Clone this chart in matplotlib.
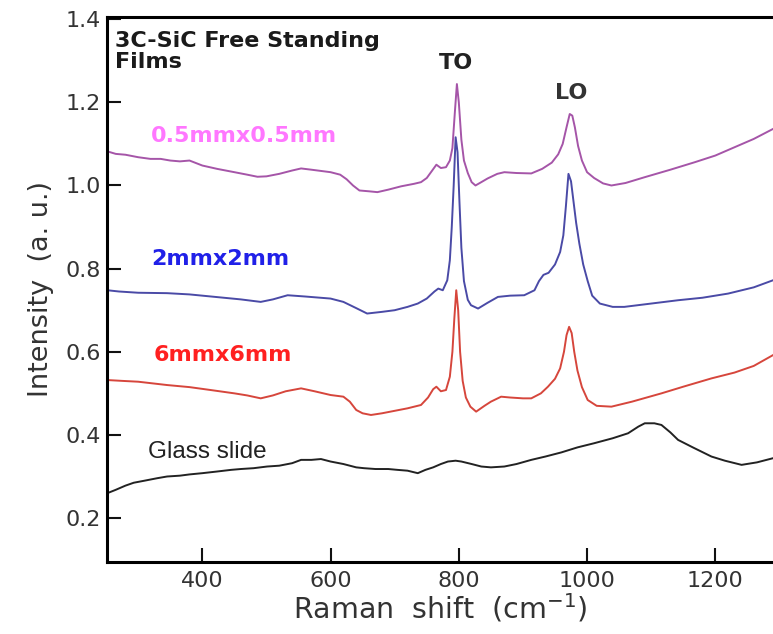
import matplotlib
matplotlib.use('Agg')
import matplotlib.pyplot as plt

# Raman spectra (x in cm^-1, y in a.u.)
purple_x = [252, 265, 280, 300, 319, 335, 350, 365, 380, 400, 423, 450, 470, 486, 500, 520, 540, 554,
            570, 600, 615, 625, 635, 645, 660, 673, 690, 710, 730, 741, 750, 758, 765, 772, 780, 786,
            790, 794, 797, 800, 804, 808, 814, 820, 826, 835, 845, 860, 871, 890, 913, 930, 945, 955,
            962, 968, 973, 977, 981, 986, 992, 1000, 1011, 1025, 1038, 1060, 1090, 1130, 1168, 1200,
            1230, 1260, 1290]
purple_y = [1.082, 1.076, 1.074, 1.068, 1.064, 1.064, 1.060, 1.058, 1.060, 1.048, 1.040, 1.032, 1.026,
            1.021, 1.022, 1.028, 1.036, 1.041, 1.038, 1.032, 1.026, 1.015, 1.000, 0.988, 0.986, 0.984,
            0.990, 0.998, 1.004, 1.008, 1.018, 1.035, 1.050, 1.042, 1.044, 1.060, 1.090, 1.180, 1.244,
            1.200, 1.110, 1.060, 1.030, 1.008, 1.000, 1.008, 1.017, 1.028, 1.032, 1.030, 1.029, 1.040,
            1.055, 1.075, 1.100, 1.140, 1.172, 1.168, 1.140, 1.095, 1.060, 1.032, 1.018, 1.005, 1.000,
            1.006, 1.020, 1.038, 1.056, 1.072, 1.092, 1.112, 1.136]

blue_x = [252, 270, 300, 345, 380, 420, 460, 491, 510, 533, 560, 600, 620, 640, 657, 680, 700, 720,
          736, 750, 762, 768, 775, 782, 786, 789, 792, 795, 798, 801, 804, 808, 814, 819, 830, 845,
          861, 880, 902, 918, 925, 932, 940, 950, 958, 963, 967, 971, 975, 979, 983, 988, 994, 1001,
          1008, 1020, 1040, 1058, 1100, 1142, 1180, 1220, 1260, 1290]
blue_y = [0.748, 0.745, 0.742, 0.741, 0.738, 0.732, 0.726, 0.720, 0.726, 0.736, 0.733, 0.728, 0.720,
          0.705, 0.692, 0.696, 0.700, 0.708, 0.716, 0.728, 0.745, 0.752, 0.748, 0.772, 0.820, 0.900,
          1.000, 1.116, 1.080, 0.960, 0.850, 0.770, 0.725, 0.712, 0.704, 0.718, 0.732, 0.735, 0.736,
          0.748, 0.770, 0.785, 0.790, 0.810, 0.840, 0.880, 0.950, 1.028, 1.010, 0.960, 0.910, 0.860,
          0.810, 0.770, 0.735, 0.716, 0.708, 0.708, 0.716, 0.724, 0.730, 0.740, 0.755, 0.772]

red_x = [252, 275, 300, 345, 380, 413, 450, 470, 491, 510, 530, 554, 575, 600, 620, 630, 640, 650,
         663, 680, 700, 720, 741, 752, 760, 765, 772, 780, 786, 790, 793, 796, 799, 802, 806, 811,
         818, 827, 840, 850, 866, 880, 900, 913, 928, 939, 950, 958, 964, 968, 972, 976, 980, 985,
         992, 1001, 1015, 1038, 1070, 1116, 1150, 1194, 1230, 1260, 1290]
red_y = [0.532, 0.530, 0.528, 0.520, 0.515, 0.508, 0.500, 0.495, 0.488, 0.495, 0.505, 0.512, 0.505,
         0.496, 0.492, 0.480, 0.460, 0.452, 0.448, 0.452, 0.458, 0.464, 0.472, 0.490, 0.510, 0.516,
         0.505, 0.508, 0.540, 0.600, 0.680, 0.748, 0.700, 0.600, 0.530, 0.490, 0.468, 0.456, 0.470,
         0.480, 0.492, 0.490, 0.488, 0.488, 0.500, 0.516, 0.535, 0.560, 0.600, 0.640, 0.660, 0.645,
         0.600, 0.555, 0.515, 0.484, 0.470, 0.468, 0.480, 0.500, 0.516, 0.536, 0.550, 0.566, 0.592]

glass_x = [252, 265, 280, 293, 310, 330, 345, 365, 380, 400, 423, 445, 460, 480, 501, 520, 540, 554,
           570, 585, 600, 620, 640, 652, 670, 690, 704, 720, 736, 748, 760, 772, 783, 795, 804, 820,
           835, 850, 871, 890, 913, 935, 960, 985, 1011, 1040, 1064, 1080, 1090, 1105, 1116, 1130,
           1142, 1165, 1194, 1215, 1241, 1265, 1290]
glass_y = [0.260, 0.268, 0.278, 0.285, 0.290, 0.296, 0.300, 0.302, 0.305, 0.308, 0.312, 0.316, 0.318,
           0.320, 0.324, 0.326, 0.332, 0.340, 0.340, 0.342, 0.336, 0.330, 0.322, 0.320, 0.318, 0.318,
           0.316, 0.314, 0.308, 0.316, 0.322, 0.330, 0.336, 0.338, 0.336, 0.330, 0.324, 0.322, 0.324,
           0.330, 0.340, 0.348, 0.358, 0.370, 0.380, 0.392, 0.404, 0.420, 0.428, 0.428, 0.424, 0.406,
           0.388, 0.370, 0.348, 0.338, 0.328, 0.334, 0.344]

x_ticks = [400, 600, 800, 1000, 1200]
y_ticks = [0.2, 0.4, 0.6, 0.8, 1.0, 1.2, 1.4]

fig = plt.figure(figsize=(7.73, 6.34), dpi=100)
ax = fig.add_axes([0.139, 0.114, 0.861, 0.859])

ax.plot(purple_x, purple_y, color='#a555a8', lw=1.4)
ax.plot(blue_x, blue_y, color='#4a4aa6', lw=1.4)
ax.plot(red_x, red_y, color='#d6463c', lw=1.4)
ax.plot(glass_x, glass_y, color='#222222', lw=1.4)

ax.set_xlim(252, 1290)
ax.set_ylim(0.095, 1.405)
ax.set_xticks(x_ticks)
ax.set_yticks(y_ticks)
ax.set_yticklabels(['%.1f' % v for v in y_ticks])

for s in ['left', 'bottom', 'top']:
    ax.spines[s].set_linewidth(2.2)
ax.spines['right'].set_visible(False)
ax.tick_params(direction='in', length=10, width=1.5, labelsize=16, colors='#111111',
               labelcolor='#333333')
ax.tick_params(axis='x', pad=7)
ax.tick_params(axis='y', pad=5)

ax.set_xlabel(r'Raman  shift  (cm$^{-1}$)', fontsize=20.5, color='#333333', labelpad=0)
ax.set_ylabel('Intensity  (a. u.)', fontsize=19.5, color='#333333', labelpad=8)

ax.text(0.012, 0.975, '3C-SiC Free Standing\nFilms', transform=ax.transAxes, fontsize=16,
        fontweight='bold', color='#1a1a1a', va='top', ha='left', linespacing=1.1)
ax.text(796, 1.295, 'TO', fontsize=16, fontweight='bold', color='#222222', ha='center', va='center')
ax.text(975, 1.223, 'LO', fontsize=16, fontweight='bold', color='#333333', ha='center', va='center')
ax.text(319, 1.118, '0.5mmx0.5mm', fontsize=16, fontweight='bold', color='#ff77ff', ha='left', va='center')
ax.text(320, 0.823, '2mmx2mm', fontsize=16, fontweight='bold', color='#2020e8', ha='left', va='center')
ax.text(324, 0.592, '6mmx6mm', fontsize=16, fontweight='bold', color='#ff2020', ha='left', va='center')
ax.text(316, 0.358, 'Glass slide', fontsize=17.5, family='Liberation Sans', color='#222222',
        ha='left', va='center')

fig.savefig('out.png', dpi=100)
